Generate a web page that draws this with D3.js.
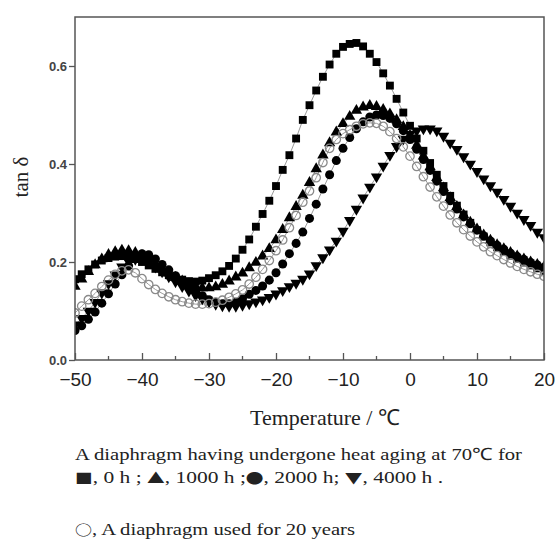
<!DOCTYPE html>
<html><head><meta charset="utf-8">
<script src="https://cdn.jsdelivr.net/npm/d3@7/dist/d3.min.js"></script>
<style>body{margin:0;background:#fff}svg{display:block}</style>
</head><body>
<svg id="c" width="555" height="540"></svg>
<script>
const temps = [-50,-49,-48,-47,-46,-45,-44,-43,-42,-41,-40,-39,-38,-37,-36,-35,-34,-33,-32,-31,-30,-29,-28,-27,-26,-25,-24,-23,-22,-21,-20,-19,-18,-17,-16,-15,-14,-13,-12,-11,-10,-9,-8,-7,-6,-5,-4,-3,-2,-1,0,1,2,3,4,5,6,7,8,9,10,11,12,13,14,15,16,17,18,19,20];

const h0 = [0.165,0.175,0.185,0.195,0.203,0.208,0.211,0.212,0.21,0.206,0.2,0.193,0.186,0.179,0.173,0.168,0.164,0.161,0.16,0.162,0.167,0.173,0.181,0.192,0.207,0.225,0.246,0.272,0.298,0.325,0.355,0.388,0.418,0.452,0.49,0.52,0.55,0.578,0.603,0.625,0.639,0.645,0.647,0.64,0.625,0.608,0.585,0.56,0.533,0.505,0.478,0.452,0.427,0.402,0.378,0.355,0.335,0.315,0.297,0.28,0.265,0.252,0.24,0.23,0.221,0.213,0.206,0.199,0.193,0.187,0.182];

const h1000 = [0.15,0.165,0.18,0.194,0.206,0.215,0.221,0.224,0.223,0.219,0.213,0.205,0.196,0.186,0.177,0.168,0.161,0.155,0.15,0.147,0.147,0.149,0.154,0.161,0.169,0.177,0.188,0.199,0.212,0.227,0.245,0.266,0.29,0.313,0.336,0.362,0.39,0.418,0.443,0.465,0.482,0.497,0.509,0.516,0.519,0.517,0.511,0.502,0.49,0.476,0.458,0.438,0.416,0.394,0.372,0.351,0.331,0.313,0.296,0.281,0.267,0.255,0.244,0.235,0.227,0.219,0.212,0.206,0.2,0.195,0.19];

const h2000 = [0.06,0.07,0.083,0.098,0.116,0.135,0.155,0.174,0.192,0.207,0.217,0.215,0.206,0.195,0.184,0.172,0.161,0.15,0.14,0.131,0.123,0.118,0.115,0.115,0.118,0.125,0.134,0.142,0.151,0.163,0.178,0.196,0.217,0.238,0.261,0.289,0.318,0.349,0.378,0.407,0.432,0.454,0.472,0.486,0.496,0.5,0.499,0.493,0.482,0.468,0.45,0.43,0.409,0.387,0.365,0.344,0.325,0.308,0.292,0.278,0.265,0.253,0.243,0.234,0.226,0.218,0.211,0.205,0.199,0.194,0.189];

const h4000 = [0.072,0.085,0.1,0.118,0.137,0.156,0.174,0.19,0.201,0.206,0.205,0.199,0.19,0.18,0.17,0.16,0.15,0.141,0.132,0.125,0.119,0.114,0.111,0.11,0.11,0.112,0.115,0.119,0.123,0.128,0.135,0.142,0.15,0.157,0.165,0.176,0.193,0.209,0.225,0.243,0.263,0.285,0.308,0.331,0.353,0.374,0.396,0.418,0.436,0.451,0.461,0.468,0.472,0.472,0.468,0.457,0.443,0.43,0.415,0.4,0.385,0.37,0.356,0.343,0.328,0.314,0.3,0.287,0.275,0.261,0.25];

const used20y = [0.096,0.11,0.123,0.136,0.15,0.163,0.175,0.182,0.184,0.178,0.166,0.154,0.144,0.136,0.129,0.123,0.119,0.116,0.114,0.114,0.115,0.118,0.122,0.128,0.135,0.143,0.155,0.169,0.185,0.203,0.223,0.245,0.27,0.295,0.322,0.345,0.372,0.403,0.432,0.45,0.462,0.47,0.477,0.482,0.484,0.483,0.477,0.466,0.452,0.435,0.416,0.395,0.374,0.353,0.333,0.314,0.296,0.28,0.266,0.253,0.241,0.231,0.221,0.213,0.205,0.198,0.191,0.185,0.18,0.175,0.171];

const xTicks = [-50,-40,-30,-20,-10,0,10,20];
const xMinor = [-45,-35,-25,-15,-5,5,15];
const yTicks = [0.0,0.2,0.4,0.6];
const legendLine1 = "A diaphragm having undergone heat aging at 70\u2103 for";
const legendLine2 = [["\u25A0", ", 0 h ; "], ["\u25B2", ", 1000 h ;"], ["\u25CF", ", 2000 h; "], ["\u25BC", ", 4000 h ."]];
const legendLine3 = [["\u25CB", ", A diaphragm used for 20 years"]];

const svg = d3.select("#c");
const L = 75, R = 544, T = 17, B = 360;
const x = d3.scaleLinear().domain([-50,20]).range([L,R]);
const y = d3.scaleLinear().domain([0,0.7]).range([B,T]);
const serif = "Liberation Serif, Times New Roman, serif";
const cjk = "Noto Sans CJK JP, DejaVu Sans, sans-serif";

// series
const series = [
  {vals:h0, sym:d3.symbolSquare, size:62, rot:0, fill:"#000", stroke:"none"},
  {vals:h1000, sym:d3.symbolTriangle, size:56, rot:0, fill:"#000", stroke:"none"},
  {vals:h2000, sym:d3.symbolCircle, size:64, rot:0, fill:"#000", stroke:"none"},
  {vals:h4000, sym:d3.symbolTriangle, size:56, rot:180, fill:"#000", stroke:"none"},
  {vals:used20y, sym:d3.symbolCircle, size:56, rot:0, fill:"none", stroke:"#8a8a8a"}
];
const line = d3.line().x((d,i)=>x(temps[i])).y(d=>y(d));
svg.append("clipPath").attr("id","pc").append("rect")
  .attr("x",L).attr("y",T).attr("width",R-L).attr("height",B-T);
const g = svg.append("g").attr("clip-path","url(#pc)");
series.forEach(s=>{
  g.append("path").attr("d",line(s.vals)).attr("fill","none")
    .attr("stroke","#9a9a9a").attr("stroke-width",1);
});
series.forEach(s=>{
  const sy = d3.symbol().type(s.sym).size(s.size);
  g.selectAll(null).data(s.vals).join("path")
    .attr("d",sy)
    .attr("transform",(d,i)=>`translate(${x(temps[i])},${y(d)}) rotate(${s.rot})`)
    .attr("fill",s.fill).attr("stroke",s.stroke).attr("stroke-width",1.3);
});

// frame
svg.append("rect").attr("x",L).attr("y",T).attr("width",R-L).attr("height",B-T)
  .attr("fill","none").attr("stroke","#555").attr("stroke-width",1.5);

// x axis
const xa = svg.append("g").attr("transform",`translate(0,${B})`)
  .call(d3.axisBottom(x).tickValues(xTicks).tickSizeInner(-7).tickSizeOuter(0).tickPadding(13));
xa.select(".domain").remove();
xa.selectAll(".tick line").attr("stroke","#555").attr("stroke-width",1.3);
xa.selectAll(".tick text").attr("font-family","Liberation Sans, Arial, sans-serif")
  .attr("font-size",19).attr("fill","#222");
svg.append("g").selectAll("line").data(xMinor).join("line")
  .attr("x1",d=>x(d)).attr("x2",d=>x(d)).attr("y1",B).attr("y2",B-4)
  .attr("stroke","#555").attr("stroke-width",1.3);

// y axis
const ya = svg.append("g").attr("transform",`translate(${L},0)`)
  .call(d3.axisLeft(y).tickValues(yTicks).tickFormat(d3.format(".1f")).tickSizeInner(6).tickSizeOuter(0).tickPadding(2));
ya.select(".domain").remove();
ya.selectAll(".tick line").attr("stroke","#555").attr("stroke-width",1.3);
ya.selectAll(".tick text").attr("font-family","Liberation Sans, Arial, sans-serif")
  .attr("font-size",13).attr("font-weight","bold").attr("fill","#444");

// axis titles
svg.append("text").attr("transform","translate(28,177) rotate(-90)")
  .attr("text-anchor","middle").attr("font-family",serif)
  .attr("font-size",21).attr("fill","#222").text("tan \u03B4");
svg.append("text").attr("x",325).attr("y",425).attr("text-anchor","middle")
  .attr("font-family",serif)
  .attr("font-size",22).attr("fill","#222").text("Temperature / \u2103");

// legend text
svg.append("text").attr("x",75).attr("y",460)
  .attr("font-family",serif).attr("font-size",17).attr("fill","#222")
  .attr("textLength",447).attr("lengthAdjust","spacingAndGlyphs").text(legendLine1);
function richLine(parts, yb, len){
  const t = svg.append("text").attr("x",75).attr("y",yb)
    .attr("font-family",serif).attr("font-size",17).attr("fill","#222");
  parts.forEach(p=>{
    t.append("tspan").attr("font-family",cjk).attr("font-size",14).text(p[0]);
    t.append("tspan").text(p[1]);
  });
  if(len) t.attr("textLength",len).attr("lengthAdjust","spacingAndGlyphs");
}
richLine(legendLine2, 483, 368);
richLine(legendLine3, 535, 280);
</script>
</body></html>
